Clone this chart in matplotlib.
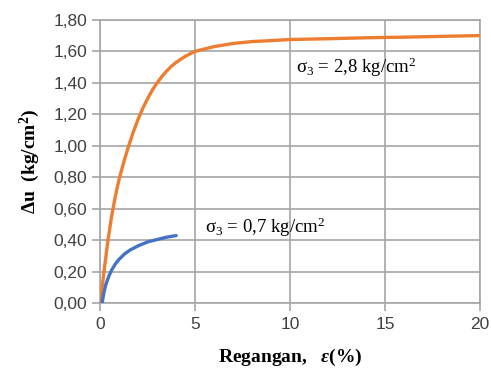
import matplotlib.pyplot as plt
from matplotlib.ticker import FuncFormatter

serif = 'Liberation Serif'
plt.rcParams['mathtext.fontset'] = 'custom'
plt.rcParams['mathtext.rm'] = serif
plt.rcParams['mathtext.it'] = serif + ':italic'
plt.rcParams['mathtext.bf'] = serif + ':bold'
plt.rcParams['mathtext.bfit'] = serif + ':bold:italic'

# sigma3 = 2,8 kg/cm2
regangan_28 = [0, 0.2, 0.4, 0.6, 0.8, 1.0, 1.25, 1.5, 1.75, 2.0, 2.25, 2.5, 2.75, 3.0, 3.25, 3.5, 3.75,
               4.0, 4.5, 5.0, 5.5, 6.0, 7.0, 8.0, 9.0, 10, 12, 14, 16, 18, 20]
du_28 = [0, 0.20, 0.39, 0.55, 0.68, 0.79, 0.90, 1.00, 1.09, 1.17, 1.24, 1.30, 1.355, 1.40, 1.44, 1.475, 1.505,
         1.53, 1.57, 1.60, 1.615, 1.63, 1.65, 1.662, 1.668, 1.675, 1.68, 1.686, 1.69, 1.695, 1.70]

# sigma3 = 0,7 kg/cm2
regangan_07 = [0.1, 0.2, 0.3, 0.45, 0.6, 0.8, 1.0, 1.3, 1.6, 2.0, 2.5, 3.0, 3.5, 4.0]
du_07 = [0, 0.07, 0.12, 0.17, 0.21, 0.25, 0.28, 0.315, 0.34, 0.365, 0.39, 0.405, 0.42, 0.43]

x_ticks = [0, 5, 10, 15, 20]
y_ticks = [0, 0.2, 0.4, 0.6, 0.8, 1.0, 1.2, 1.4, 1.6, 1.8]

grid_col = '#a6a6a6'

fig = plt.figure(figsize=(4.91, 3.74), dpi=100)
ax = fig.add_axes([0.204, 0.189, 0.774, 0.758])

ax.plot(regangan_28, du_28, color='#ED7D31', lw=2.4, solid_capstyle='round', solid_joinstyle='round', zorder=3)
ax.plot(regangan_07, du_07, color='#4472C4', lw=2.4, solid_capstyle='round', solid_joinstyle='round', zorder=3)

ax.set_xlim(0, 20)
ax.set_ylim(0, 1.8)
ax.set_xticks(x_ticks)
ax.set_yticks(y_ticks)
ax.yaxis.set_major_formatter(FuncFormatter(lambda v, p: f'{v:.2f}'.replace('.', ',')))
ax.grid(True, color=grid_col, lw=1.2)
ax.set_axisbelow(True)
for s in ax.spines.values():
    s.set_color(grid_col)
    s.set_linewidth(1.2)
ax.tick_params(colors=grid_col, labelcolor='#404040', length=6, width=1.2, labelsize=12.5)
for lab in ax.get_xticklabels() + ax.get_yticklabels():
    lab.set_family('Liberation Sans')

ax.text(10.3, 1.50, r'$\mathregular{\sigma_3}$ = 2,8 kg/cm$^\mathregular{2}$', family=serif, fontsize=13.5,
        va='center', ha='left')
ax.text(5.5, 0.48, r'$\mathregular{\sigma_3}$ = 0,7 kg/cm$^\mathregular{2}$', family=serif, fontsize=13.5,
        va='center', ha='left')

ax.set_ylabel(r'$\mathbf{\Delta}$u  (kg/cm$^\mathbf{2}$)', family=serif, fontweight='bold', fontsize=14, labelpad=8)
ax.set_xlabel(r'Regangan,   $\mathbfit{ε}$(%)', family=serif, fontweight='bold', fontsize=14, labelpad=11)

fig.savefig('out.png', dpi=100)
